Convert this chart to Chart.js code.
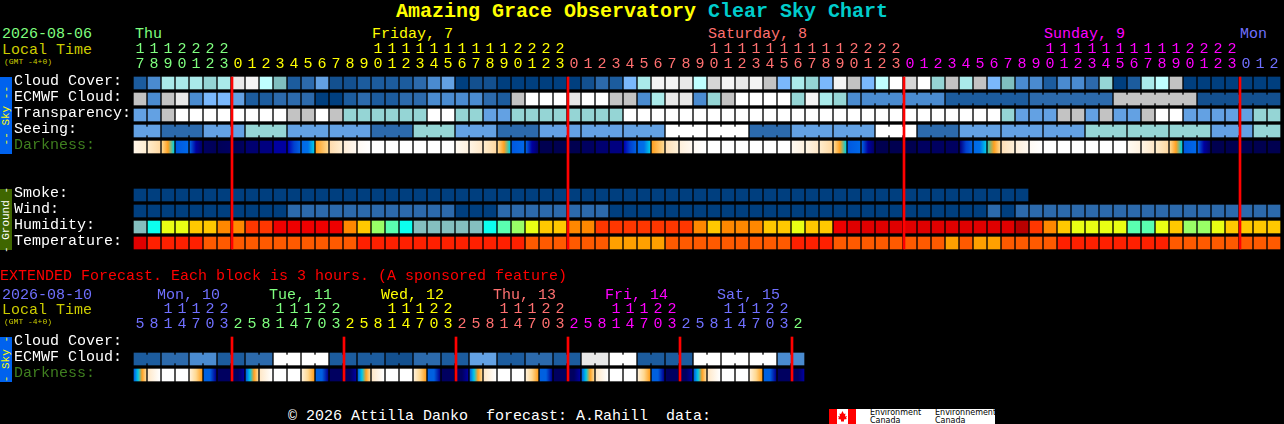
<!DOCTYPE html>
<html><head><meta charset="utf-8">
<script src="https://cdn.jsdelivr.net/npm/chart.js@4"></script>
<style>
html,body{margin:0;padding:0;background:#000;width:1284px;height:424px;overflow:hidden}
.t{position:absolute;white-space:pre;font:15px/16px "Liberation Mono",monospace;letter-spacing:0}
.s{position:absolute;left:0;width:12px;display:flex;align-items:center;justify-content:center}
.s span{writing-mode:vertical-rl;transform:rotate(180deg);font:11px/12px "Liberation Mono",monospace;white-space:pre}
canvas{display:block}
.c{position:absolute;left:0}
</style></head><body>
<div class="t" style="left:396px;top:0;font-weight:bold;font-size:20px;line-height:23px;color:#ffff00">Amazing Grace Observatory <span style="color:#00cccc">Clear Sky Chart</span></div>
<div class="t" style="left:2px;top:27px;color:#7fff7f">2026-08-06</div>
<div class="t" style="left:2px;top:43px;color:#cccc00">Local Time</div>
<div class="t" style="left:4px;top:57px;font-size:8px;line-height:10px;color:#cccc00">(GMT -4+0)</div>
<div class="t" style="left:135px;top:27px;color:#7fff7f">Thu</div>
<div class="t" style="left:372px;top:27px;color:#ffff00">Friday, 7</div>
<div class="t" style="left:708px;top:27px;color:#ff7070">Saturday, 8</div>
<div class="t" style="left:1044px;top:27px;color:#ff00ff">Sunday, 9</div>
<div class="t" style="left:1240px;top:27px;color:#7070ff">Mon</div>
<div class="s" style="top:77px;height:77px;background:#0062ee;color:#ffff00"><span>-- Sky --</span></div>
<div class="s" style="top:189px;height:61px;background:#3f6600;color:#fff"><span>- Ground -</span></div>
<div class="s" style="top:337px;height:45px;background:#0062ee;color:#ffff00"><span>- Sky -</span></div>
<div class="c" style="top:0;width:1284px;height:260px"><canvas id="main"></canvas></div>
<div class="c" style="top:280px;width:1284px;height:112px"><canvas id="ext"></canvas></div>
<div class="t" style="left:0;top:269px;color:#ff0000">EXTENDED Forecast. Each block is 3 hours. (A sponsored feature)</div>
<div class="t" style="left:2px;top:288px;color:#7070ff">2026-08-10</div>
<div class="t" style="left:2px;top:303px;color:#cccc00">Local Time</div>
<div class="t" style="left:4px;top:317px;font-size:8px;line-height:10px;color:#cccc00">(GMT -4+0)</div>
<div class="t" style="left:157px;top:288px;color:#7070ff">Mon, 10</div>
<div class="t" style="left:269px;top:288px;color:#7fff7f">Tue, 11</div>
<div class="t" style="left:381px;top:288px;color:#ffff00">Wed, 12</div>
<div class="t" style="left:493px;top:288px;color:#ff7070">Thu, 13</div>
<div class="t" style="left:605px;top:288px;color:#ff00ff">Fri, 14</div>
<div class="t" style="left:717px;top:288px;color:#7070ff">Sat, 15</div>
<div class="t" style="left:288px;top:409px;color:#fff">© 2026 Attilla Danko  forecast: A.Rahill  data:</div>
<div style="position:absolute;left:829px;top:409px;width:166px;height:15px;background:#fff;overflow:hidden">
<svg width="27" height="15" style="position:absolute;left:0;top:0"><rect width="8" height="15" fill="#f00"/><rect x="19" width="8" height="15" fill="#f00"/><path d="M13.5 2l1.5 3 1.5-.5-.5 3 2-.5-1 2 1 1-3 .5v2h-3v-2l-3-.5 1-1-1-2 2 .5-.5-3 1.5.5z" fill="#f00"/></svg>
<div class="t" style="left:41px;top:0;font:8px/8px 'DejaVu Sans',sans-serif;color:#000">Environment<br>Canada</div>
<div class="t" style="left:106px;top:0;font:8px/8px 'DejaVu Sans',sans-serif;color:#000">Environnement<br>Canada</div>
</div>
<script>
/* sky colour levels */
const skyLevels={a:"#003f7f",b:"#13508f",c:"#1c5c9e",d:"#2c6aac",e:"#4a8bd0",f:"#63a1e3",g:"#7ab8fc",h:"#7fbfbf",i:"#95d5d5",j:"#aaeaea",k:"#bfffff",W:"#ffffff",w:"#f4f4f4",x:"#e8e8e8",y:"#d6d6d6",z:"#c3c3c3"};
/* humidity / temperature colour levels */
const heatLevels={T:"#84bfbf",C:"#0cffef",M:"#5affb0",L:"#99ff66",Y:"#e9ff14",G:"#ffc800",O:"#ff8800",R:"#ff3700",E:"#ee0000",D:"#e00000",B:"#b80000",r:"#ff2000",o:"#ff5a00",A:"#ffa000"};

const hours=[17,18,19,20,21,22,23,0,1,2,3,4,5,6,7,8,9,10,11,12,13,14,15,16,17,18,19,20,21,22,23,0,1,2,3,4,5,6,7,8,9,10,11,12,13,14,15,16,17,18,19,20,21,22,23,0,1,2,3,4,5,6,7,8,9,10,11,12,13,14,15,16,17,18,19,20,21,22,23,0,1,2];
const hourColors=["#7fff7f","#ffff00","#ff7070","#ff00ff","#7070ff"];
const dayStarts=[0,7,31,55,79];
const extHours=[5,8,11,14,17,20,23,2,5,8,11,14,17,20,23,2,5,8,11,14,17,20,23,2,5,8,11,14,17,20,23,2,5,8,11,14,17,20,23,2,5,8,11,14,17,20,23,2];
const extColors=["#7070ff","#7fff7f","#ffff00","#ff7070","#ff00ff","#7070ff","#7fff7f"];
const extDayStarts=[0,7,15,23,31,39,47];
const midnights=[7,31,55,79];
const extMidnights=[7,15,23,31,39,47];

const rowNames=["Cloud Cover:","ECMWF Cloud:","Transparency:","Seeing:","Darkness:","","","Smoke:","Wind:","Humidity:","Temperature:"];
const extRowNames=["Cloud Cover:","ECMWF Cloud:","Darkness:"];

const cloudCover=["c","e","j","j","j","i","j","x","w","k","h","c","d","f","b","b","c","c","c","c","d","e","f","a","b","b","a","a","a","a","a","a","b","d","c","g","j","w","w","x","k","y","w","x","w","z","g","j","i","g","w","z","g","k","W","y","W","i","z","j","z","g","h","e","e","c","e","e","d","i","a","c","j","k","z","a","a","a","a","a","a","a"];
const ecmwfCloud=["z","e","z","x","e","g","g","f","c","c","d","d","d","a","a","c","d","c","c","d","d","e","e","e","e","d","c","z","W","W","W","x","W","W","z","z","e","j","x","x","e","i","z","W","W","W","W","i","w","j","i","e","e","e","e","e","e","e","c","c","c","c","c","c","d","d","d","d","d","d","z","z","z","z","z","z","b","b","b","b","b","b"];
const transparency=["f","f","z","W","W","W","W","W","W","W","W","z","z","W","z","i","i","i","i","i","i","W","W","i","i","f","f","i","i","i","i","i","i","i","i","W","W","W","W","W","W","W","W","W","W","W","W","W","W","W","W","W","W","W","W","W","W","W","W","W","W","W","i","f","f","f","z","z","f","z","f","f","z","W","W","f","f","f","f","f","i","i"];
const seeing=["f","f","d","d","d","f","f","f","i","i","i","f","f","f","f","f","f","d","d","d","i","i","i","f","f","f","d","d","d","f","f","f","f","f","f","f","f","f","W","W","W","W","W","W","d","d","d","f","f","f","f","f","f","W","W","W","d","d","d","f","f","f","f","f","f","f","f","f","i","i","i","i","i","i","i","i","i","f","f","f","i","i"];
const smoke=["a","a","a","a","a","a","a","a","a","a","a","a","a","a","a","a","a","a","a","a","a","a","a","a","a","a","a","a","a","a","a","a","a","a","a","a","a","a","a","a","a","a","a","a","a","a","a","a","a","a","a","a","a","a","a","a","a","a","a","a","a","a","a","a"];
const wind=["a","a","a","a","a","a","a","a","a","a","a","d","d","d","d","d","d","d","d","d","d","d","d","a","a","a","d","d","d","d","d","d","d","d","a","a","a","a","a","a","a","a","a","a","a","a","a","a","a","a","a","a","a","a","a","a","a","a","a","a","a","d","a","d","d","d","d","d","d","d","d","d","d","d","d","d","d","d","d","d","d","d"];
const humidity=["T","C","Y","Y","G","G","O","O","R","R","E","E","E","E","E","O","G","L","M","C","T","T","T","T","T","C","M","L","Y","G","G","O","O","R","R","R","R","R","R","R","O","G","O","O","O","G","G","Y","G","G","E","D","D","D","D","D","D","D","D","D","D","D","D","B","R","O","G","Y","Y","Y","Y","M","M","Y","G","L","L","Y","G","G","G","G"];
const temperature=["D","r","r","r","r","o","o","o","o","o","o","o","o","o","o","o","r","r","r","r","r","r","r","r","r","r","r","r","o","o","o","o","o","o","A","A","A","A","o","o","o","o","o","o","o","o","o","r","r","r","o","o","o","o","o","o","o","o","A","o","A","A","o","o","o","o","r","r","r","r","r","r","r","r","o","o","o","o","o","o","o","o"];
const darkness=[
["#fff6e8","#ffeed2"],["#ffeccc","#ffd9a2"],["#ffd890","#ffa020","#00d0e0"],["#0058e0","#0068e8"],["#0060e0","#0000a0","#00006a"],["#000060","#000058"],["#000058","#000060"],["#000050","#000060"],["#000070","#000070"],["#000080","#000080"],["#0000a0","#0000a0"],["#0000b0","#0040d0","#0060e0"],["#0068e8","#0070e8","#00c8e8"],["#ffa020","#ffd890"],["#ffdcae","#ffeed2"],["#ffeed8","#fff8f0"],["#fffaf4","#ffffff"],["#ffffff","#ffffff"],["#ffffff","#ffffff"],["#ffffff","#ffffff"],["#ffffff","#ffffff"],["#ffffff","#ffffff"],["#ffffff","#ffffff"],
["#fffaf2","#fff2e0"],["#fff4e4","#ffe8c8"],["#ffeccc","#ffd9a2"],["#ffd890","#ffa020","#00d0e0"],["#0058e0","#0068e8"],["#0060e0","#0000a0","#00006a"],["#000050","#000050"],["#000050","#000050"],["#000050","#000050"],["#000060","#000060"],["#000070","#000070"],["#000080","#000080"],["#0000b0","#0040d0","#0060e0"],["#0068e8","#0070e8","#00c8e8"],["#ffa020","#ffd890"],["#ffe0b8","#fff0d8"],["#fff0dc","#fff8f0"],["#fffaf4","#ffffff"],["#ffffff","#ffffff"],["#ffffff","#ffffff"],["#ffffff","#ffffff"],["#ffffff","#ffffff"],["#ffffff","#ffffff"],["#ffffff","#ffffff"],
["#fffaf2","#fff2e0"],["#fff4e4","#ffe8c8"],["#ffeccc","#ffd9a2"],["#ffd890","#ffa020","#00d0e0"],["#0058e0","#0068e8"],["#0060e0","#0000a0","#00006a"],["#000050","#000050"],["#000050","#000050"],["#000050","#000050"],["#000060","#000060"],["#000060","#000060"],["#000060","#000060"],["#000080","#0040d0","#0060e0"],["#0068e8","#0070e8","#00c8e8"],["#40c0a0","#ffa020","#ffd890"],["#ffe0b8","#fff0d8"],["#fff0dc","#fff8f0"],["#fffaf4","#ffffff"],["#ffffff","#ffffff"],["#ffffff","#ffffff"],["#ffffff","#ffffff"],["#ffffff","#ffffff"],["#ffffff","#ffffff"],["#ffffff","#ffffff"],
["#fffaf2","#fff2e0"],["#fff4e4","#ffe8c8"],["#ffeccc","#ffd9a2"],["#ffd890","#ffa020","#00d0e0"],["#0058e0","#0068e8"],["#0060e0","#0000a0","#00006a"],["#000050","#000050"],["#000050","#000050"],["#000050","#000050"],["#000050","#000050"],["#000050","#000050"]];
const seeingGroups=[0,2,5,8,11,14,17,20,23,26,29,32,35,38,41,44,47,50,53,56,59,62,65,68,71,74,77,80,82];
const ecmwfGroups=[52,58,64,70,76,82];

const extEcmwf=["c","c","d","d","e","e","c","c","d","d","W","W","W","W","c","c","c","c","b","b","d","d","c","c","f","f","c","c","d","d","c","c","x","x","W","W","c","c","c","c","W","W","W","W","W","W","e","e"];
const extDarkness=[
["#0060e0","#00c8e8","#ffa020","#ffd890"],["#ffe8c8","#ffffff"],["#ffffff","#ffffff"],["#ffffff","#ffffff"],["#fff0d8","#ffd890","#ffa020"],["#0060e0","#0060e0","#000090"],["#000060","#000060"],["#000060","#000060","#0000a0"],
["#0060e0","#00c8e8","#ffa020","#ffd890"],["#ffe8c8","#ffffff"],["#ffffff","#ffffff"],["#ffffff","#ffffff"],["#fff0d8","#ffd890","#ffa020"],["#0060e0","#0060e0","#000090"],["#000060","#000060"],["#000060","#000060","#0000a0"],
["#0060e0","#00c8e8","#ffa020","#ffd890"],["#ffe8c8","#ffffff"],["#ffffff","#ffffff"],["#ffffff","#ffffff"],["#fff0d8","#ffd890","#ffa020"],["#0060e0","#0060e0","#000090"],["#000060","#000060"],["#000060","#000060","#0000a0"],
["#0060e0","#00c8e8","#ffa020","#ffd890"],["#ffe8c8","#ffffff"],["#ffffff","#ffffff"],["#ffffff","#ffffff"],["#fff0d8","#ffd890","#ffa020"],["#0060e0","#0060e0","#000090"],["#000060","#000060"],["#000060","#000060","#0000a0"],
["#0060e0","#00c8e8","#ffa020","#ffd890"],["#ffe8c8","#ffffff"],["#ffffff","#ffffff"],["#ffffff","#ffffff"],["#fff0d8","#ffd890","#ffa020"],["#0060e0","#0060e0","#000090"],["#000060","#000060"],["#000060","#000060","#0000a0"],
["#0060e0","#00c8e8","#ffa020","#ffd890"],["#ffe8c8","#ffffff"],["#ffffff","#ffffff"],["#ffffff","#ffffff"],["#fff0d8","#ffd890","#ffa020"],["#0060e0","#0060e0","#000090"],["#000060","#000060"],["#000060","#000060","#0000a0"]];
const extGroups=[0,2,4,6,8,10,12,14,16,18,20,22,24,26,28,30,32,34,36,38,40,42,44,46,48];

const HALF=0.375, LINK=0.25, CELL=12, RULE=2, LABEL_SHIFT=0.125;
function colorAt(starts,colors,i){let c=colors[0];starts.forEach((s,j)=>{if(i>=s)c=colors[j]});return c}
function row(values,r,pal,label){return {label,data:values.map((v,i)=>({x:i,y:[r-HALF,r+HALF]})),backgroundColor:values.map(v=>pal[v]),barThickness:CELL,grouped:false,borderWidth:0,borderSkipped:false,order:2}}
function links(values,r,pal,groups,label){const d=[],c=[];for(let g=0;g<groups.length-1;g++)for(let i=groups[g];i<groups[g+1]-1;i++){d.push({x:i+.5,y:[r-LINK,r+LINK]});c.push(pal[values[i]])}return {label,data:d,backgroundColor:c,barThickness:3,grouped:false,borderWidth:0,borderSkipped:false,order:3}}
function dark(stops,r,label){return {label,data:stops.map((v,i)=>({x:i,y:[r-HALF,r+HALF]})),barThickness:CELL,grouped:false,borderWidth:0,borderSkipped:false,order:2,
 backgroundColor(ctx){const s=ctx.chart.scales.x,st=stops[ctx.dataIndex];if(!s||!st)return "#000";const p=s.getPixelForValue(ctx.dataIndex);if(!isFinite(p))return "#000";const g=ctx.chart.ctx.createLinearGradient(p-6,0,p+6,0);st.forEach((c,i)=>g.addColorStop(i/(st.length-1),c));return g}}}
function rules(cols,y0,y1,label){return {label,data:cols.map(c=>({x:c-3/7,y:[y0-HALF,y1+HALF]})),backgroundColor:"#ff0000",barThickness:RULE,grouped:false,borderWidth:0,borderSkipped:false,order:0}}
function opts(hrs,starts,colors,names,xMax,axisH,paddingB){return {
 responsive:true,maintainAspectRatio:false,animation:false,events:[],
 layout:{autoPadding:false,padding:{left:14,right:0,top:0,bottom:paddingB}},
 plugins:{legend:{display:false},tooltip:{enabled:false}},
 scales:{
  x:{type:"linear",position:"top",offset:false,min:-0.5,max:xMax,grid:{display:false,drawTicks:false},border:{display:false},
   afterFit(s){s.height=axisH},
   afterBuildTicks(s){s.ticks=hrs.map((h,i)=>({value:i}))},
   ticks:{autoSkip:false,maxRotation:0,minRotation:0,padding:3,color:c=>colorAt(starts,colors,c.index),
    font:{family:"'Liberation Mono',monospace",size:15,lineHeight:"15px"},
    callback(v,i){const h=hrs[i];return [h>=10?String(Math.floor(h/10)):"",String(h%10)]}}},
  y:{type:"linear",reverse:true,min:-0.5,max:names.length-0.5,grid:{display:false,drawTicks:false},border:{display:false},
   afterFit(s){s.width=119},
   afterBuildTicks(s){s.ticks=names.map((n,i)=>({value:i-LABEL_SHIFT}))},
   ticks:{autoSkip:false,crossAlign:"far",padding:0,color:c=>names[c.index]==="Darkness:"?"#3f7f1f":"#ffffff",
    font:{family:"'Liberation Mono',monospace",size:15},
    callback(v,i){return names[i]}}}
 }}}
const maxCol=(1284-140)/14;
new Chart(document.getElementById("main"),{type:"bar",data:{datasets:[
 row(cloudCover,0,skyLevels,"Cloud Cover"),row(ecmwfCloud,1,skyLevels,"ECMWF Cloud"),links(ecmwfCloud,1,skyLevels,ecmwfGroups,"ECMWF links"),
 row(transparency,2,skyLevels,"Transparency"),row(seeing,3,skyLevels,"Seeing"),links(seeing,3,skyLevels,seeingGroups,"Seeing links"),
 dark(darkness,4,"Darkness"),
 row(smoke,7,skyLevels,"Smoke"),row(wind,8,skyLevels,"Wind"),row(humidity,9,heatLevels,"Humidity"),row(temperature,10,heatLevels,"Temperature"),
 rules(midnights,0,10,"Midnight")
]},options:opts(hours,dayStarts,hourColors,rowNames,maxCol,75,9)});
new Chart(document.getElementById("ext"),{type:"bar",data:{datasets:[
 row(extEcmwf,1,skyLevels,"ECMWF Cloud"),links(extEcmwf,1,skyLevels,extGroups,"ECMWF links"),
 dark(extDarkness,2,"Darkness"),
 rules(extMidnights,0,2,"Midnight")
]},options:opts(extHours,extDayStarts,extColors,extRowNames,maxCol,55,9)});
</script>
</body></html>
